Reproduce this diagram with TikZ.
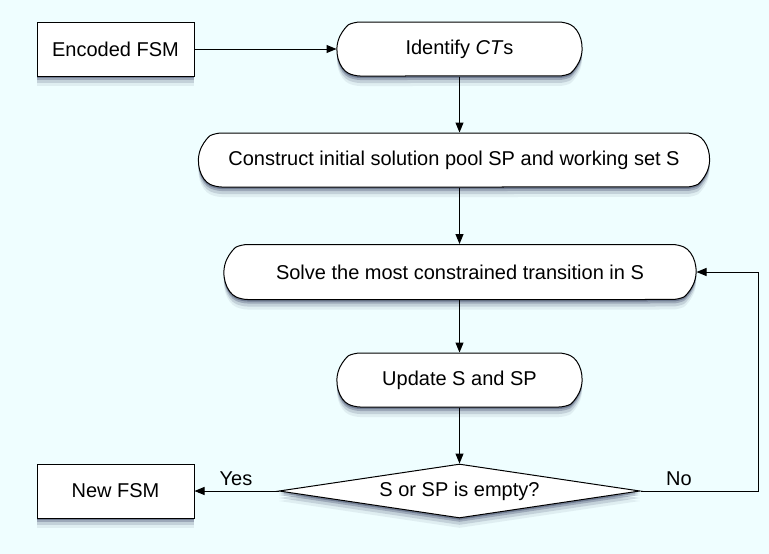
\documentclass[tikz,border=0pt]{standalone}
\usepackage{fontspec}
\setmainfont{Liberation Sans}
\usetikzlibrary{shapes.geometric,shapes.misc,shadows,arrows.meta}
\definecolor{bgc}{RGB}{239,254,255}
\definecolor{shc}{RGB}{40,50,85}
\begin{document}
\begin{tikzpicture}[x=1pt,y=-1pt,
  every node/.style={font=\fontsize{20}{24}\selectfont},
  blurshadow/.style={
    general shadow={shadow xshift=0pt, shadow yshift=-2pt, fill=shc, opacity=0.35},
    general shadow={shadow xshift=0pt, shadow yshift=-4pt, fill=shc, opacity=0.25},
    general shadow={shadow xshift=0pt, shadow yshift=-7pt, fill=shc, opacity=0.15},
    general shadow={shadow xshift=0pt, shadow yshift=-10pt, fill=shc, opacity=0.08}},
  sqbox/.style={draw, fill=white, line width=1pt, rectangle, minimum width=157pt, minimum height=54pt, inner sep=0pt, blurshadow},
  rbox/.style={draw, fill=white, line width=1pt, rounded rectangle, rounded rectangle arc length=130, rounded corners=6pt, minimum height=54pt, inner sep=0pt, blurshadow},
  decbox/.style={draw, fill=white, line width=1pt, diamond, aspect=6.7, inner sep=0pt, minimum width=361pt, minimum height=54pt, blurshadow},
  arr/.style={line width=1pt, -{Triangle[length=10pt,width=8pt]}},
  lbl/.style={inner sep=0pt}
]
\fill[bgc] (0,0) rectangle (769,554);
\useasboundingbox (0,0) rectangle (769,554);

\node[sqbox] (enc) at (115.5,49) {Encoded FSM};
\node[rbox, minimum width=245pt] (id) at (459.5,49) {Identify \textit{CT}s};
\node[rbox, minimum width=511pt] (con) at (454,160) {Construct initial solution pool SP and working set S};
\node[rbox, minimum width=472pt, minimum height=55pt] (sol) at (460,272) {Solve the most constrained transition in S};
\node[rbox, minimum width=245pt] (upd) at (459.5,380) {Update S and SP};
\node[decbox] (dec) at (459.5,491) {S or SP is empty?};
\node[sqbox] (new) at (115.5,491) {New FSM};

\node[lbl] (yes) at (236,479) {Yes};
\node[lbl] (no) at (679,479) {No};

\coordinate (loop) at (758,491);

\draw[arr] (enc) -- (id);
\draw[arr] (id.south) -- (id.south |- con.north);
\draw[arr] (id.south |- con.south) -- (id.south |- sol.north);
\draw[arr] (id.south |- sol.south) -- (upd.north);
\draw[arr] (upd.south) -- (upd.south |- dec.north);
\draw[arr] (dec.west) -- (new.east);
\draw[arr] (dec.east) -- (loop) |- (sol.east);
\end{tikzpicture}
\end{document}
